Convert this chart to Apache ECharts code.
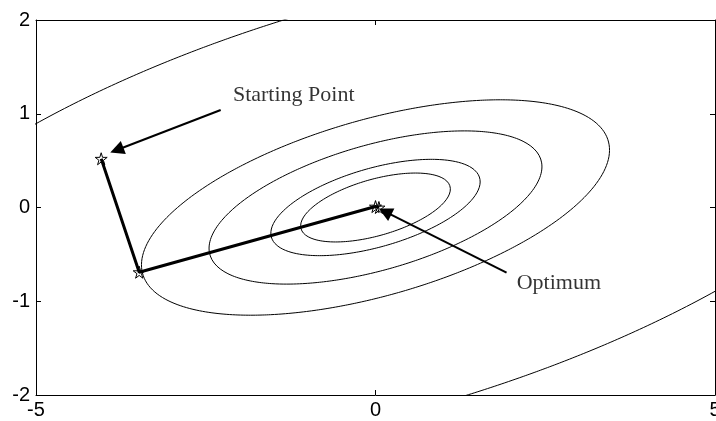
<!DOCTYPE html>
<html>
<head>
<meta charset="utf-8">
<script src="https://cdn.jsdelivr.net/npm/echarts@6/dist/echarts.min.js"></script>
<style>
  html, body { margin: 0; padding: 0; background: #fff; overflow: hidden; }
  #chart { width: 716px; height: 421px; }
</style>
</head>
<body>
<div id="chart"></div>
<script>
// Quadratic objective f(x, y) = qa*x^2 + 2*qb*x*y + qc*y^2, minimum at the origin
const quadCoeffs = { qa: 1.0, qb: -1.6, qc: 9.0 };
// Contour levels of f that are drawn
const contourLevels = [0.87, 1.7, 4.3, 8.5, 46.5];

// Steepest-descent iterates (start, after one step, optimum)
const iterates = [[-4.04, 0.52], [-3.48, -0.69], [0.0, 0.01], [0.05, 0.0]];

// Annotation arrows: [from, to]
const arrows = [
  [[-2.28, 1.04], [-3.81, 0.613]],
  [[1.93, -0.695], [0.14, -0.045]]
];
// Annotation texts and their anchor points (left edge, vertical middle)
const noteTexts = ['Starting Point', 'Optimum'];
const noteAnchors = [[-2.10, 1.195], [2.08, -0.81]];

// Axis tick values
const xTicks = [-5, 0, 5];
const yTicks = [-2, -1, 0, 1, 2];

// Trace one contour of the quadratic as a closed polar curve
function contour(level) {
  const { qa, qb, qc } = quadCoeffs;
  const pts = [];
  for (let k = 0; k <= 720; k++) {
    const t = (k / 720) * 2 * Math.PI;
    const c = Math.cos(t), s = Math.sin(t);
    const r = Math.sqrt(level / (qa * c * c + 2 * qb * c * s + qc * s * s));
    pts.push([r * c, r * s]);
  }
  return pts;
}

const starPath = 'path://M50,0 L61,35 L98,35 L68,57 L79,91 L50,70 L21,91 L32,57 L2,35 L39,35 Z';

const chart = echarts.init(document.getElementById('chart'), null, { renderer: 'canvas' });

const axisLine = { show: true, onZero: false, lineStyle: { color: '#000', width: 1 } };
const axisTick = { show: true, inside: true, length: 5, lineStyle: { color: '#000', width: 1 } };
const tickFont = { color: '#000', fontFamily: 'Liberation Sans, Arial, sans-serif', fontSize: 20 };

const series = [];
contourLevels.forEach(function (lv) {
  series.push({
    type: 'line',
    data: contour(lv),
    showSymbol: false,
    symbol: 'none',
    smooth: false,
    clip: true,
    lineStyle: { color: '#000', width: 1 },
    silent: true,
    animation: false,
    z: 2
  });
});

series.push({
  type: 'line',
  data: iterates,
  symbol: starPath,
  symbolSize: 12,
  showSymbol: true,
  showAllSymbol: true,
  itemStyle: { color: 'rgba(255,255,255,0)', borderColor: '#000', borderWidth: 1 },
  lineStyle: { color: '#000', width: 3 },
  animation: false,
  z: 4
});

series.push({
  type: 'lines',
  coordinateSystem: 'cartesian2d',
  data: arrows.map(function (a) { return { coords: a }; }),
  symbol: ['none', 'triangle'],
  symbolSize: [11, 14],
  lineStyle: { color: '#000', width: 2, opacity: 1 },
  itemStyle: { color: '#000' },
  animation: false,
  z: 5
});

series.push({
  type: 'scatter',
  data: noteAnchors.map(function (p, i) { return { value: p, name: noteTexts[i] }; }),
  symbolSize: 0,
  label: {
    show: true,
    position: [0, 0],
    align: 'left',
    verticalAlign: 'middle',
    formatter: function (p) { return p.name; },
    color: '#000',
    fontFamily: 'Liberation Serif, Times New Roman, serif',
    fontSize: 22
  },
  animation: false,
  z: 6
});

chart.setOption({
  backgroundColor: '#fff',
  animation: false,
  grid: { left: 36, right: 1, top: 20, bottom: 26, containLabel: false, outerBoundsMode: 'none' },
  xAxis: [
    {
      type: 'value', min: xTicks[0], max: xTicks[xTicks.length - 1], interval: xTicks[1] - xTicks[0],
      position: 'bottom',
      axisLine: axisLine, axisTick: axisTick, splitLine: { show: false },
      axisLabel: Object.assign({ margin: 5, showMaxLabel: true, showMinLabel: true }, tickFont)
    },
    {
      type: 'value', min: xTicks[0], max: xTicks[xTicks.length - 1], interval: xTicks[1] - xTicks[0],
      position: 'top',
      axisLine: axisLine, axisTick: axisTick, splitLine: { show: false },
      axisLabel: { show: false }
    }
  ],
  yAxis: [
    {
      type: 'value', min: yTicks[0], max: yTicks[yTicks.length - 1], interval: yTicks[1] - yTicks[0],
      position: 'left',
      axisLine: axisLine, axisTick: axisTick, splitLine: { show: false },
      axisLabel: Object.assign({ margin: 6 }, tickFont)
    },
    {
      type: 'value', min: yTicks[0], max: yTicks[yTicks.length - 1], interval: yTicks[1] - yTicks[0],
      position: 'right',
      axisLine: axisLine, axisTick: axisTick, splitLine: { show: false },
      axisLabel: { show: false }
    }
  ],
  series: series
});
</script>
</body>
</html>
